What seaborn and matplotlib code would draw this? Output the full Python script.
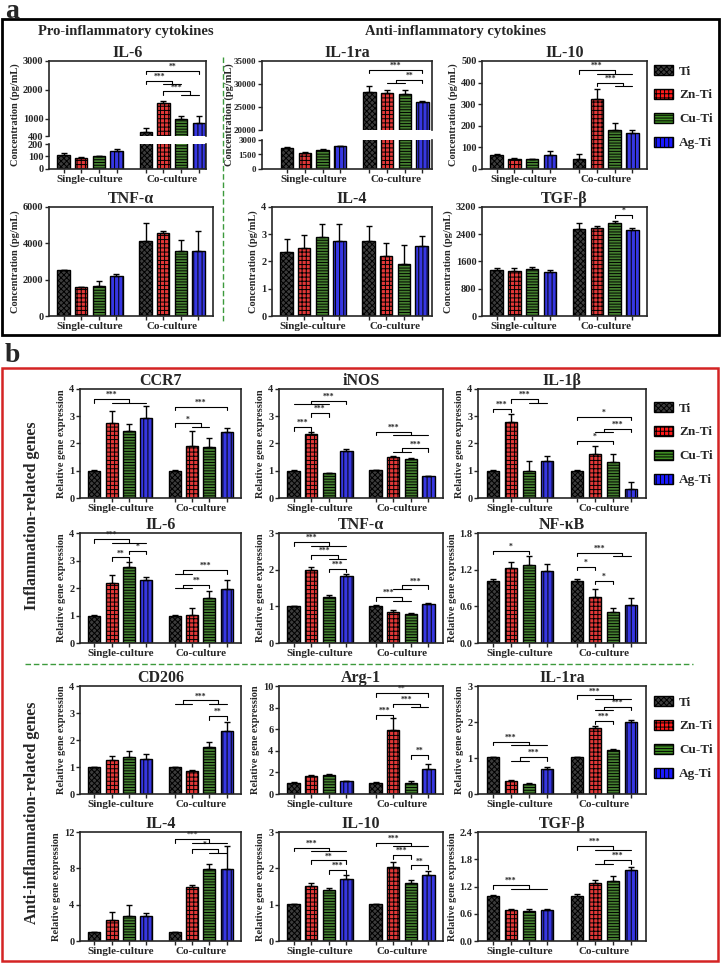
import numpy as np
import pandas as pd
import matplotlib
matplotlib.use('Agg')
import matplotlib.pyplot as plt
from matplotlib.patches import Patch, Rectangle
from matplotlib.lines import Line2D
import seaborn as sns

sns.set_style('ticks')
plt.rcParams['font.family'] = ['Liberation Serif', 'DejaVu Serif']
plt.rcParams['font.weight'] = 'bold'
plt.rcParams['axes.labelweight'] = 'bold'
plt.rcParams['axes.titleweight'] = 'bold'
plt.rcParams['hatch.linewidth'] = 0.7
plt.rcParams['axes.linewidth'] = 1.2

# groups / series
materials = ['Ti', 'Zn-Ti', 'Cu-Ti', 'Ag-Ti']
cultures = ['Single-culture', 'Co-culture']
colors = ['#3c3c3c', '#ff1a1a', '#3e8c22', '#1a1aff']
hatches = ['xxxxxx', '++++', '------', '||||']

# values: 4 single-culture bars then 4 co-culture bars (Ti, Zn-Ti, Cu-Ti, Ag-Ti)
# panel a, ELISA (pg/mL)
a_il6_mean = [110, 87, 100, 145, 525, 1545, 1000, 860]
a_il6_err = [15, 7, 5, 15, 135, 55, 80, 220]
a_il1ra_mean = [2200, 1700, 1950, 2330, 28350, 28100, 27900, 26000]
a_il1ra_err = [80, 70, 80, 60, 1150, 700, 800, 400]
a_il10_mean = [65, 48, 45, 65, 45, 326, 182, 168]
a_il10_err = [4, 3, 3, 17, 26, 43, 30, 14]
a_tnfa_mean = [2514, 1578, 1633, 2183, 4128, 4569, 3560, 3560]
a_tnfa_err = [40, 40, 312, 110, 990, 90, 640, 1120]
a_il4_mean = [2.35, 2.48, 2.90, 2.74, 2.75, 2.19, 1.92, 2.56]
a_il4_err = [0.49, 0.48, 0.49, 0.62, 0.55, 0.49, 0.70, 0.36]
a_tgfb_mean = [1360, 1310, 1370, 1300, 2560, 2590, 2730, 2525]
a_tgfb_err = [40, 100, 80, 60, 180, 40, 60, 45]

# panel b, relative gene expression
b_ccr7_mean = [1.0, 2.74, 2.46, 2.93, 1.0, 1.90, 1.87, 2.42]
b_ccr7_err = [0.01, 0.44, 0.26, 0.43, 0.02, 0.55, 0.33, 0.15]
b_inos_mean = [1.0, 2.35, 0.90, 1.74, 1.02, 1.49, 1.43, 0.80]
b_inos_err = [0.02, 0.07, 0.02, 0.05, 0.02, 0.05, 0.04, 0.02]
b_il1b_mean = [1.0, 2.78, 0.98, 1.37, 1.0, 1.62, 1.33, 0.34]
b_il1b_err = [0.02, 0.30, 0.37, 0.16, 0.02, 0.29, 0.27, 0.25]
b_il6_mean = [1.0, 2.18, 2.77, 2.30, 1.0, 1.02, 1.64, 1.98]
b_il6_err = [0.01, 0.28, 0.18, 0.10, 0.02, 0.24, 0.24, 0.30]
b_tnfa_mean = [1.0, 2.0, 1.25, 1.84, 1.0, 0.85, 0.80, 1.06]
b_tnfa_err = [0.02, 0.08, 0.05, 0.05, 0.03, 0.04, 0.02, 0.04]
b_nfkb_mean = [1.02, 1.22, 1.27, 1.18, 1.02, 0.76, 0.50, 0.62]
b_nfkb_err = [0.02, 0.11, 0.15, 0.12, 0.02, 0.13, 0.08, 0.12]
b_cd206_mean = [1.0, 1.26, 1.38, 1.30, 1.0, 0.85, 1.75, 2.34]
b_cd206_err = [0.01, 0.16, 0.22, 0.19, 0.01, 0.04, 0.19, 0.31]
b_arg1_mean = [1.05, 1.70, 1.80, 1.20, 1.05, 5.97, 1.05, 2.28]
b_arg1_err = [0.03, 0.10, 0.08, 0.05, 0.03, 1.10, 0.18, 0.46]
b_il1ra_mean = [1.02, 0.37, 0.29, 0.70, 1.02, 1.84, 1.23, 2.00]
b_il1ra_err = [0.01, 0.02, 0.02, 0.04, 0.01, 0.04, 0.03, 0.05]
b_il4_mean = [1.0, 2.28, 2.75, 2.75, 1.0, 5.94, 7.96, 7.96]
b_il4_err = [0.03, 0.92, 1.18, 0.33, 0.03, 0.26, 0.54, 2.54]
b_il10_mean = [1.01, 1.51, 1.39, 1.72, 1.01, 2.04, 1.60, 1.83]
b_il10_err = [0.01, 0.09, 0.07, 0.09, 0.02, 0.13, 0.07, 0.10]
b_tgfb_mean = [1.0, 0.68, 0.67, 0.68, 1.0, 1.28, 1.32, 1.56]
b_tgfb_err = [0.01, 0.02, 0.03, 0.03, 0.03, 0.06, 0.11, 0.07]

# significance brackets: (left bar, right bar, height, label); a tuple = group of bars
a_il6_sig = [(4, 7, 2667, '**'), (4, (5, 6), 2310, '***'), (5, (6, 7), 1943, '***')]
a_il1ra_sig = [(4, 7, 33060, '***'), ((5, 6), 7, 30900, '**')]
a_il10_sig = [(4, (5, 7), 458, '***'), (5, (6, 7), 400, '***')]
a_tgfb_sig = [(6, 7, 2975, '*')]
b_ccr7_sig = [(0, (1, 3), 3.63, '***'), (4, 7, 3.34, '***'), (4, (5, 6), 2.74, '*')]
b_inos_sig = [(0, 1, 2.60, '***'), (1, 2, 3.11, '***'), ((0, 2), 3, 3.57, '***'),
              (4, (5, 7), 2.44, '***'), ((5, 6), 7, 1.82, '***')]
b_il1b_sig = [(0, 1, 3.27, '***'), (1, (2, 3), 3.63, '***'), (4, 7, 2.99, '*'),
              ((5, 6), 7, 2.55, '***'), (4, 6, 2.10, '*')]
b_il6_sig = [(0, (1, 3), 3.78, '***'), (1, 2, 3.11, '**'), (2, 3, 3.36, '*'),
             ((4, 5), 7, 2.65, '***'), ((4, 5), 6, 2.12, '**')]
b_tnfa_sig = [(0, (1, 3), 2.75, '***'), (1, (2, 3), 2.40, '***'), (2, 3, 2.03, '***'),
              (4, (5, 6), 1.25, '***'), ((5, 6), 7, 1.57, '***')]
b_nfkb_sig = [(0, 2, 1.51, '*'), (4, (6, 7), 1.48, '***'), (4, 5, 1.25, '*'), (5, 6, 1.02, '*')]
b_cd206_sig = [((4, 5), (6, 7), 3.47, '***'), (6, 7, 2.88, '**')]
b_arg1_sig = [(4, 7, 9.35, '**'), (5, (6, 7), 8.37, '***'), (4, 5, 7.30, '***'), (6, 7, 3.60, '**')]
b_il1ra_sig = [(0, (1, 3), 1.45, '***'), ((1, 2), 3, 1.02, '***'), (4, (5, 7), 2.74, '***'),
               ((5, 6), 7, 2.42, '***'), (5, 6, 2.03, '***')]
b_il4_sig = [(4, (5, 7), 11.2, '***'), (5, (6, 7), 10.1, '*')]
b_il10_sig = [(0, (1, 3), 2.56, '***'), (1, 3, 2.22, '**'), (2, 3, 1.95, '***'),
              (4, (5, 7), 2.71, '***'), (5, 6, 2.36, '***'), (6, 7, 2.08, '**')]
b_tgfb_sig = [(0, (1, 3), 1.23, '***'), (4, (5, 7), 2.09, '***'), ((5, 6), 7, 1.78, '***')]

W, H = 721, 963
fig = plt.figure(figsize=(W / 100, H / 100), dpi=100)


def rect(l, t, r, b):
    return [l / W, 1 - b / H, (r - l) / W, (b - t) / H]


def draw_bars(ax, means, errs):
    df = pd.DataFrame({'culture': np.repeat(cultures, 4), 'material': materials * 2, 'value': means})
    sns.barplot(data=df, x='culture', y='value', hue='material', order=cultures, hue_order=materials,
                palette=colors, width=0.86, gap=0.3, errorbar=None, edgecolor='black',
                linewidth=1, legend=False, ax=ax)
    bars = sorted(ax.patches, key=lambda p: p.get_x())
    xs = []
    for i, p in enumerate(bars):
        p.set_hatch(hatches[i % 4])
        xs.append(p.get_x() + p.get_width() / 2)
    ax.errorbar(xs, means, yerr=[np.zeros(len(errs)), errs], fmt='none', ecolor='black',
                elinewidth=1, capsize=2.5, capthick=1, zorder=3)
    ax.set_xlabel('')
    ax.set_ylabel('')
    return xs


def bracket(ax, xs, left, right, y, txt, d):
    def pos(e):
        if isinstance(e, tuple):
            return (xs[e[0]] + xs[e[1]]) / 2
        return xs[e]

    xl, xr = pos(left), pos(right)
    kw = dict(color='black', lw=0.8, clip_on=False, zorder=4)
    ax.plot([xl, xr], [y, y], **kw)
    for e, xe in ((left, xl), (right, xr)):
        ax.plot([xe, xe], [y, y - d], **kw)
        if isinstance(e, tuple):
            ax.plot([xs[e[0]], xs[e[1]]], [y - d, y - d], **kw)
    ax.text((xl + xr) / 2, y, txt, ha='center', va='bottom', fontsize=5.5)


def style_x(ax, xs, xlim, labels=True):
    ax.set_xlim(xlim)
    ax.set_xticks([0, 1])
    ax.set_xticklabels(cultures if labels else ['', ''], fontsize=8)
    ax.tick_params(axis='x', which='major', length=0, pad=4)
    ax.set_xticks(xs, minor=True)
    ax.tick_params(axis='x', which='minor', length=3, width=1)


def style_y(ax, ylim, yticks, ylabels=None, size=7.5):
    ax.set_ylim(ylim)
    ax.set_yticks(yticks)
    ax.set_yticklabels(ylabels if ylabels else [str(v) for v in yticks])
    ax.tick_params(axis='y', length=3, width=1, labelsize=size, pad=1)


def panel(box, title, means, errs, ylim, yticks, ylabel, sig=(), ylabels=None, xlim=(-0.5, 1.5)):
    l, t, r, b = box
    ax = fig.add_axes(rect(l, t, r, b))
    xs = draw_bars(ax, means, errs)
    style_x(ax, xs, xlim)
    style_y(ax, ylim, yticks, ylabels)
    ax.set_title(title, fontsize=11.5, pad=3)
    ax.set_ylabel(ylabel, fontsize=7.5, labelpad=2)
    d = 3.5 / (b - t) * (ylim[1] - ylim[0])
    for s in sig:
        bracket(ax, xs, *s, d)
    return ax


def broken_panel(l, r, up, lo, title, means, errs, ylim_up, ticks_up, ylim_lo, ticks_lo,
                 sig, label_x, xlim, size=7.5):
    ax_up = fig.add_axes(rect(l, up[0], r, up[1]))
    ax_lo = fig.add_axes(rect(l, lo[0], r, lo[1]))
    xs = draw_bars(ax_up, means, errs)
    draw_bars(ax_lo, means, errs)
    style_x(ax_lo, xs, xlim)
    ax_up.set_xlim(xlim)
    ax_up.set_xticks([])
    style_y(ax_up, ylim_up, ticks_up, size=size)
    style_y(ax_lo, ylim_lo, ticks_lo, size=size)
    ax_up.spines['bottom'].set_visible(False)
    ax_lo.spines['top'].set_visible(False)
    ax_up.set_title(title, fontsize=11.5, pad=3)
    d = 3.5 / (up[1] - up[0]) * (ylim_up[1] - ylim_up[0])
    for s in sig:
        bracket(ax_up, xs, *s, d)
    fig.text(label_x / W, 1 - (up[0] + lo[1]) / 2 / H, 'Concentration (pg/mL)', rotation=90,
             ha='center', va='center', fontsize=7.5)


conc = 'Concentration (pg/mL)'
rel = 'Relative gene expression'

# ---- panel a ----
broken_panel(49, 206, (61, 136), (144, 169), 'IL-6', a_il6_mean, a_il6_err,
             (400, 3000), [400, 1000, 2000, 3000], (0, 200), [0, 100, 200],
             a_il6_sig, 15, (-0.5, 1.41))
broken_panel(262, 432, (61, 130), (140, 169), 'IL-1ra', a_il1ra_mean, a_il1ra_err,
             (20000, 35000), [20000, 25000, 30000, 35000], (0, 3000), [0, 1500, 3000],
             a_il1ra_sig, 229, (-0.63, 1.44), size=6.5)
panel((482, 61, 647, 169), 'IL-10', a_il10_mean, a_il10_err, (0, 500),
      [0, 100, 200, 300, 400, 500], conc, a_il10_sig)
panel((49, 207, 213, 316), 'TNF-α', a_tnfa_mean, a_tnfa_err, (0, 6000), [0, 2000, 4000, 6000], conc)
panel((272, 207, 432, 316), 'IL-4', a_il4_mean, a_il4_err, (0, 4), [0, 1, 2, 3, 4], conc,
      xlim=(-0.5, 1.45))
panel((482, 207, 647, 316), 'TGF-β', a_tgfb_mean, a_tgfb_err, (0, 3200),
      [0, 800, 1600, 2400, 3200], conc, a_tgfb_sig)

# ---- panel b ----
cols = [(80, 241), (279, 443), (478, 646)]
rows = [(389, 498), (533, 643), (686, 794), (832, 941)]
b_specs = [
    ('CCR7', b_ccr7_mean, b_ccr7_err, (0, 4), [0, 1, 2, 3, 4], None, b_ccr7_sig),
    ('iNOS', b_inos_mean, b_inos_err, (0, 4), [0, 1, 2, 3, 4], None, b_inos_sig),
    ('IL-1β', b_il1b_mean, b_il1b_err, (0, 4), [0, 1, 2, 3, 4], None, b_il1b_sig),
    ('IL-6', b_il6_mean, b_il6_err, (0, 4), [0, 1, 2, 3, 4], None, b_il6_sig),
    ('TNF-α', b_tnfa_mean, b_tnfa_err, (0, 3), [0, 1, 2, 3], None, b_tnfa_sig),
    ('NF-κB', b_nfkb_mean, b_nfkb_err, (0, 1.8), [0, 0.6, 1.2, 1.8],
     ['0.0', '0.6', '1.2', '1.8'], b_nfkb_sig),
    ('CD206', b_cd206_mean, b_cd206_err, (0, 4), [0, 1, 2, 3, 4], None, b_cd206_sig),
    ('Arg-1', b_arg1_mean, b_arg1_err, (0, 10), [0, 2, 4, 6, 8, 10], None, b_arg1_sig),
    ('IL-1ra', b_il1ra_mean, b_il1ra_err, (0, 3), [0, 1, 2, 3], None, b_il1ra_sig),
    ('IL-4', b_il4_mean, b_il4_err, (0, 12), [0, 4, 8, 12], None, b_il4_sig),
    ('IL-10', b_il10_mean, b_il10_err, (0, 3), [0, 1, 2, 3], None, b_il10_sig),
    ('TGF-β', b_tgfb_mean, b_tgfb_err, (0, 2.4), [0, 0.6, 1.2, 1.8, 2.4],
     ['0.0', '0.6', '1.2', '1.8', '2.4'], b_tgfb_sig),
]
for k, (title, m, e, yl, yt, ylab, sig) in enumerate(b_specs):
    (l, r), (t, b) = cols[k % 3], rows[k // 3]
    panel((l, t, r, b), title, m, e, yl, yt, rel, sig, ylabels=ylab)

# ---- legends ----
handles = [Patch(facecolor=c, edgecolor='black', hatch=h, linewidth=1) for c, h in zip(colors, hatches)]
for top in (65, 402, 696):
    fig.legend(handles, materials, loc='upper left', bbox_to_anchor=(654 / W, 1 - top / H),
               frameon=False, fontsize=9.5, handlelength=1.45, handleheight=0.8,
               labelspacing=0.85, handletextpad=0.45, borderaxespad=0, borderpad=0)

# ---- frames, separators, headings ----
fig.add_artist(Rectangle((2 / W, 1 - 335 / H), 717 / W, 316 / H, transform=fig.transFigure,
                         fill=False, edgecolor='black', lw=2))
fig.add_artist(Rectangle((2 / W, 1 - 961 / H), 716 / W, 593 / H, transform=fig.transFigure,
                         fill=False, edgecolor='#d42424', lw=1.8))
fig.add_artist(Line2D([223 / W, 223 / W], [1 - 57 / H, 1 - 323 / H], transform=fig.transFigure,
                      color='#3c9a3c', ls=(0, (4, 2)), lw=1))
fig.add_artist(Line2D([25 / W, 693 / W], [1 - 664 / H, 1 - 664 / H], transform=fig.transFigure,
                      color='#3c9a3c', ls=(0, (4, 2)), lw=1))

fig.text(5 / W, 1 - 18 / H, 'a', fontsize=20, ha='left', va='baseline')
fig.text(5 / W, 1 - 362 / H, 'b', fontsize=20, ha='left', va='baseline')
fig.text(126 / W, 1 - 31 / H, 'Pro-inflammatory cytokines', fontsize=10.5, ha='center', va='center')
fig.text(455 / W, 1 - 31 / H, 'Anti-inflammatory cytokines', fontsize=10.5, ha='center', va='center')
fig.text(32 / W, 1 - 516 / H, 'Inflammation-related genes', fontsize=11.5, rotation=90,
         ha='center', va='center')
fig.text(32 / W, 1 - 813 / H, 'Anti-inflammation-related genes', fontsize=11.5, rotation=90,
         ha='center', va='center')

fig.savefig('out.png', dpi=100)
